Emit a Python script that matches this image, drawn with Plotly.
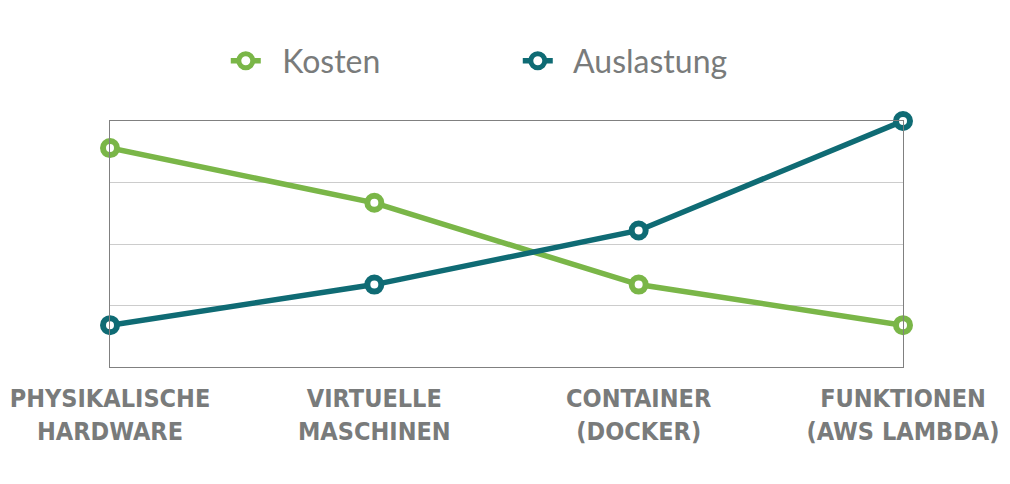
import plotly.graph_objects as go

# Daten
kategorien = ["PHYSIKALISCHE<br>HARDWARE", "VIRTUELLE<br>MASCHINEN",
              "CONTAINER<br>(DOCKER)", "FUNKTIONEN<br>(AWS LAMBDA)"]
positionen = [0, 1, 2, 3]
kosten = [3.56, 2.67, 1.34, 0.68]
auslastung = [0.68, 1.34, 2.22, 4.0]

GRUEN = '#7ab648'
PETROL = '#0f6b74'
GRAU = '#797b7b'

fig = go.Figure()

for name, werte, farbe in [("Kosten", kosten, GRUEN), ("Auslastung", auslastung, PETROL)]:
    fig.add_trace(go.Scatter(
        x=positionen,
        y=werte,
        name='\u00a0\u00a0' + name,  # Abstand zwischen Symbol und Text
        mode='lines+markers',
        line=dict(color=farbe, width=5.5),
        marker=dict(symbol='circle', size=14, color='white',
                    line=dict(color=farbe, width=6)),
        cliponaxis=False
    ))

fig.update_layout(
    width=1010, height=484,
    paper_bgcolor='white',
    plot_bgcolor='white',
    margin=dict(l=110, r=107, t=121, b=117),
    font=dict(family='Lato', color=GRAU),
    legend=dict(
        orientation='h',
        x=0.146, xanchor='left',
        y=1.244, yanchor='middle',
        font=dict(size=32, color=GRAU, family='Lato'),
        entrywidth=247,
        entrywidthmode='pixels'
    ),
    xaxis=dict(
        range=[0, 3],
        tickvals=positionen,
        ticktext=kategorien,
        tickfont=dict(family='DejaVu Sans Condensed, sans-serif',
                      size=25, color=GRAU, weight='bold'),
        ticklabeloverflow='allow',
        ticklabelstandoff=9,
        automargin=False,
        showgrid=False,
        zeroline=False,
        showline=True, linecolor='#808080', linewidth=1, mirror=True,
        ticks=''
    ),
    yaxis=dict(
        range=[0, 4],
        tickvals=[1, 2, 3],
        showticklabels=False,
        automargin=False,
        showgrid=True, gridcolor='#cccccc', gridwidth=1,
        zeroline=False,
        showline=True, linecolor='#808080', linewidth=1, mirror=True,
        ticks=''
    )
)

fig.write_html("out.html", config={'displayModeBar': False})

# Seitenrand des Browsers entfernen
with open("out.html", encoding="utf-8") as f:
    html = f.read()
html = html.replace("<body>", '<body style="margin:0">', 1)
with open("out.html", "w", encoding="utf-8") as f:
    f.write(html)
